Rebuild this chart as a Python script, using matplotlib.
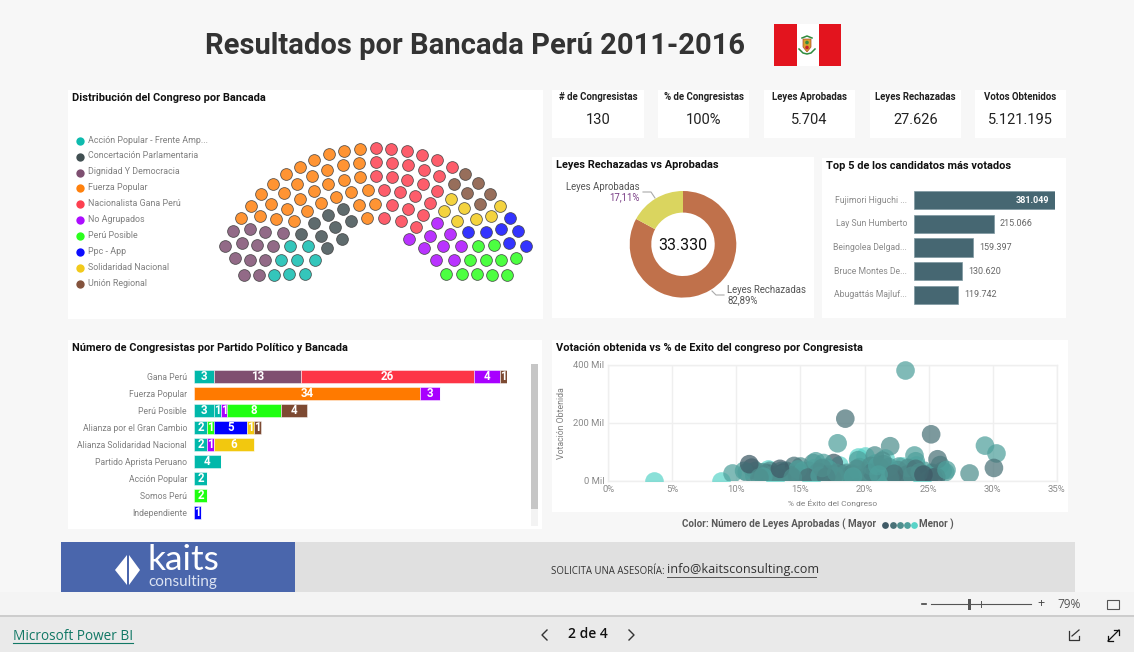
import matplotlib
matplotlib.use("Agg")
import matplotlib.pyplot as plt
from matplotlib.patches import Rectangle, Polygon, Circle
from matplotlib.ticker import FuncFormatter

W, H = 1134, 652
BOLD = "Roboto"
DIN = "Roboto"

# ---------- data ----------
bancadas = ["Acción Popular - Frente Amp...", "Concertación Parlamentaria", "Dignidad Y Democracia",
            "Fuerza Popular", "Nacionalista Gana Perú", "No Agrupados", "Perú Posible",
            "Ppc - App", "Solidaridad Nacional", "Unión Regional"]
bancada_colors = ["#01B8AA", "#374649", "#774569", "#FF7A00", "#FD3546", "#A800FF", "#1FFF11",
                  "#0000FF", "#F2C80F", "#7D4A32"]
# seats in the hemicycle, one (x, y) per congress member
seats_ap = [(222,435),(268,433),(314,432),(243,390),(292,389),(344,389),(270,348),(324,349)]
seats_con = [(303,311),(362,318),(382,353),(426,327),(341,280),(405,291),(453,273),(383,255),(430,236)]
seats_dig = [(133,435),(177,435),(105,385),(149,390),(196,389),(76,347),(126,340),(171,346),(219,347),
             (98,304),(150,297),(196,306),(249,309)]
seats_fp = [(123,264),(181,259),(228,268),(282,272),(320,242),(362,218),(407,200),(454,186),(503,181),
            (152,227),(214,221),(261,237),(300,206),(341,182),(385,163),(431,149),(479,141),
            (184,192),(252,189),(292,161),(336,138),(381,120),(428,106),(478,98),
            (220,161),(258,133),(299,110),(342,89),(386,73),(433,62),(480,56),
            (478,226),(526,221),(502,264)]
seats_nac = [(527,54),(574,56),(620,63),(666,74),(711,90),(755,110),
             (527,96),(576,98),(624,106),(672,119),(717,137),
             (527,139),(575,141),(622,149),(668,162),(712,182),
             (551,180),(600,186),(646,199),(691,218),
             (576,226),(624,236),(669,254),(552,264),(602,272),(648,290)]
seats_noa = [(712,280),(690,317),(750,311),(627,326),(671,353),(730,349),(783,348),(708,389),(761,389)]
seats_pp = [(834,347),(882,346),(810,389),(857,390),(904,390),(947,385),(739,431),(785,433),(831,433),
            (876,434),(920,436)]
seats_ppc = [(930,264),(803,307),(857,306),(903,297),(955,304),(927,340),(977,347)]
seats_sol = [(753,207),(732,243),(791,235),(901,227),(771,272),(827,268),(872,259)]
seats_ur = [(795,132),(761,161),(833,160),(802,188),(869,191),(840,222)]
all_seats = [seats_ap, seats_con, seats_dig, seats_fp, seats_nac, seats_noa, seats_pp, seats_ppc, seats_sol, seats_ur]

kpi_titles = ["# de Congresistas", "% de Congresistas", "Leyes Aprobadas", "Leyes Rechazadas", "Votos Obtenidos"]
kpi_values = ["130", "100%", "5.704", "27.626", "5.121.195"]

leyes_labels = ["Leyes Rechazadas", "Leyes Aprobadas"]
leyes_pct = [82.89, 17.11]
leyes_total = "33.330"

top5_names = ["Fujimori Higuchi ...", "Lay Sun Humberto", "Beingolea Delgad...", "Bruce Montes De...", "Abugattás Majluf..."]
top5_votes = [381049, 215066, 159397, 130620, 119742]

partidos = ["Gana Perú", "Fuerza Popular", "Perú Posible", "Alianza por el Gran Cambio",
            "Alianza Solidaridad Nacional", "Partido Aprista Peruano", "Acción Popular", "Somos Perú", "Independiente"]
part_ap  = [3, 0, 3, 0, 0, 0, 2, 0, 0]
part_con = [0, 0, 1, 2, 2, 4, 0, 0, 0]
part_dig = [13, 0, 0, 0, 0, 0, 0, 0, 0]
part_fp  = [0, 34, 0, 0, 0, 0, 0, 0, 0]
part_nac = [26, 0, 0, 0, 0, 0, 0, 0, 0]
part_noa = [4, 3, 1, 0, 1, 0, 0, 0, 0]
part_pp  = [0, 0, 8, 1, 0, 0, 0, 2, 0]
part_ppc = [0, 0, 0, 5, 0, 0, 0, 0, 1]
part_sol = [0, 0, 0, 1, 6, 0, 0, 0, 0]
part_ur  = [1, 0, 4, 1, 0, 0, 0, 0, 0]
part_stack = [part_ap, part_con, part_dig, part_fp, part_nac, part_noa, part_pp, part_ppc, part_sol, part_ur]
part_colors = ["#01B8AA", "#01B8AA", "#7F4F70", "#FF7A00", "#FD3546", "#A800FF", "#1FFF11", "#0000FF", "#F2C80F", "#7D4A32"]

exito_t0 = [17.6,15.0,11.0,24.6,15.3,14.7,13.4,17.1,20.6,25.4,12.4,24.2]
votos_t0 = [62,28,58,22,20,20,42,22,30,12,28,30]
exito_t1 = [18.5,25.2,30.1,25.7,11.2,12.3,16.4,18.2,21.2,24.0,22.3,19.0,14.5,25.6,13.6,16.0,17.0,20.0,23.3,15.6]
votos_t1 = [215,161,45,75,46,25,32,25,48,42,25,25,52,14,28,22,14,12,22,12]
exito_t2 = [28.2,22.0,20.8,10.8,11.5,12.8,14.0,15.0,16.0,16.7,18.6,19.4,21.4,22.6,23.4,24.3,25.9,26.1,14.2,13.1,17.5,20.3,21.7,12.0,15.5,19.8,23.0,25.0,
            11.8,12.6,13.3,14.4,15.7,16.4,17.8,18.9,19.7,20.5,21.2,22.4,23.7,24.8,25.3,15.0,13.9]
votos_t2 = [26,120,88,30,35,20,32,50,62,45,28,42,70,38,45,30,55,35,20,18,8,14,18,30,8,6,8,5,
            12,35,10,12,35,12,28,8,22,52,30,12,18,15,28,10,35]
exito_t3 = [23.2,17.9,29.4,30.3,9.7,26.4,23.9,19.5,21.0,22.7,24.0,16.2,16.8,13.0,14.8,18.4,20.2,22.0,11.4,13.7,17.2,21.1,23.6,15.2,19.1,25.1,
            10.6,12.1,13.5,14.9,16.5,18.8,20.7,21.9,23.1,24.7,26.3,19.6,17.7,21.5]
votos_t3 = [381,130,122,95,26,38,88,72,52,50,68,68,62,8,40,20,35,10,18,25,40,22,30,35,15,26,
            35,15,35,22,18,22,12,48,12,35,30,48,18,58]
exito_t4 = [3.6,8.8,12.5,19.5,20.0,21.6,22.9,24.0,16.0,18.0,20.8,22.2,13.0,15.8,24.5,17.0]
votos_t4 = [0,0,40,82,85,78,52,55,45,55,62,35,5,5,8,48]
tone_colors = ["#3F5A66", "#4A7278", "#4F8F8E", "#4FA09C", "#58D3C8"]

# ---------- figure ----------
fig = plt.figure(figsize=(W/100, H/100), dpi=100, facecolor="#F7F7F7")

def px_axes(l, t, r, b, z=2):
    a = fig.add_axes([l/W, 1-b/H, (r-l)/W, (b-t)/H], zorder=z)
    return a

bg = px_axes(0, 0, W, H, 0)
bg.set_xlim(0, W); bg.set_ylim(H, 0); bg.axis("off")
fg = px_axes(0, 0, W, H, 5)
fg.set_xlim(0, W); fg.set_ylim(H, 0); fg.axis("off"); fg.patch.set_alpha(0)

def box(l, t, r, b, c="white", a=bg, **k):
    a.add_patch(Rectangle((l, t), r-l, b-t, fc=c, ec="none", **k))

for p in [(68,90,543,319),(68,340,542,529),(552,340,1068,512),(552,157,814,318),(822,158,1066,318)]:
    box(*p)

def panel_title(x, y, s, size=7.9):
    fg.text(x, y+.6, s, family=BOLD, weight="bold", fontsize=size, color="#111111", va="center", ha="left")

# main title
fg.text(205, 46.5, "Resultados por Bancada Perú 2011-2016", family=BOLD, weight="bold", fontsize=21,
        color="#333333", va="center", ha="left")
# flag
box(774, 24, 796.5, 66, "#E3141E"); box(796.5, 24, 818.5, 66, "white"); box(818.5, 24, 841, 66, "#E3141E")
bg.add_patch(Polygon([(803,39),(811,39),(811,47),(807,52),(803,47)], fc="#D6A32A", ec="#B04A2A", lw=.5))
bg.add_patch(Circle((807, 42.5), 1.8, fc="#3C8A3C", ec="none"))
bg.add_patch(Circle((807, 47.5), 1.8, fc="#C8202A", ec="none"))
bg.plot([799,803,807,811,815],[49,53,54,53,49], color="#2E8B3D", lw=1.1)
bg.plot([802,807,812],[38,36,38], color="#2E8B3D", lw=1.1)

# KPI cards
kpi_left = [552, 658, 764, 870, 975]
kpi_right = [644, 749, 855, 961, 1066]
for l, r, t, v in zip(kpi_left, kpi_right, kpi_titles, kpi_values):
    box(l, 90, r, 138)
    fg.text((l+r)/2, 97, t, family=BOLD, weight="bold", fontsize=6.9, color="#222222", ha="center", va="center")
    fg.text((l+r)/2, 120, v, family=DIN, fontsize=10.5, color="#222222", ha="center", va="center")

# hemicycle
panel_title(72, 97, "Distribución del Congreso por Bancada")
leg_y = [140.7, 156.5, 172.5, 188, 204, 220, 236, 252, 268, 284]
for y, name, c in zip(leg_y, bancadas, bancada_colors):
    fg.scatter([80], [y], s=36, color=c, alpha=.95, linewidths=0)
    fg.text(88, y-.5, name, family=DIN, fontsize=6.4, color="#808080", va="center", ha="left")
hemi = px_axes(200, 130, 540, 290)
hemi.set_xlim(0, 1020); hemi.set_ylim(480, 0); hemi.axis("off"); hemi.patch.set_alpha(0)
for pts, c in zip(all_seats, bancada_colors):
    hemi.scatter([p[0] for p in pts], [p[1] for p in pts], s=72, color=c, alpha=.8,
                 edgecolors="#3A3A3A", linewidths=.6)

# donut
panel_title(556, 164, "Leyes Rechazadas vs Aprobadas")
don = px_axes(683-53.3, 244.3-53.3, 683+53.3, 244.3+53.3)
don.pie(leyes_pct, colors=["#C0714B", "#DAD55F"], startangle=90, counterclock=False, radius=1,
        wedgeprops=dict(width=.405, edgecolor="none"))
don.set_xlim(-1, 1); don.set_ylim(-1, 1); don.set_aspect("equal")
don.patch.set_alpha(0)
fg.text(683, 246, leyes_total, family=DIN, fontsize=11.5, color="#111111", ha="center", va="center")
fg.text(640, 187, leyes_labels[1], family=DIN, fontsize=6.9, color="#555555", ha="right", va="center")
fg.text(640, 197, "17,11%", family=DIN, fontsize=6.9, color="#7A3E86", ha="right", va="center")
fg.text(727, 290, leyes_labels[0], family=DIN, fontsize=6.9, color="#555555", ha="left", va="center")
fg.text(727, 300, "82,89%", family=DIN, fontsize=6.9, color="#555555", ha="left", va="center")
fg.plot([643, 651, 655], [192, 192, 198], color="#AAAAAA", lw=.8)
fg.plot([712, 716, 724], [291, 295, 295], color="#AAAAAA", lw=.8)

# top 5
panel_title(826, 165, "Top 5 de los candidatos más votados")
t5 = px_axes(914, 188, 1055, 307)
t5.barh(range(5), top5_votes, height=.78, color="#466772", edgecolor="#7E98A0", linewidth=.5)
t5.set_xlim(0, 381049); t5.set_ylim(4.52, -.52); t5.axis("off"); t5.patch.set_alpha(0)
for i, (n, v) in enumerate(zip(top5_names, top5_votes)):
    t5.annotate(n, (0, i), xytext=(-7, 0), textcoords="offset pixels", ha="right", va="center",
                family=DIN, fontsize=6.2, color="#8A8A8A", annotation_clip=False)
    s = f"{v:,}".replace(",", ".")
    if i == 0:
        t5.annotate(s, (v, i), xytext=(-6, 0), textcoords="offset pixels", ha="right", va="center",
                    family=DIN, weight="bold", fontsize=6.5, color="white")
    else:
        t5.annotate(s, (v, i), xytext=(6, 0), textcoords="offset pixels", ha="left", va="center",
                    family=DIN, fontsize=6.5, color="#666666", annotation_clip=False)

# stacked bars
panel_title(72, 347, "Número de Congresistas por Partido Político y Bancada")
st = px_axes(194, 368.2, 194+47*6.66, 520.5)
left = [0]*len(partidos)
for vals, c in zip(part_stack, part_colors):
    st.barh(range(len(partidos)), vals, left=left, height=.77, color=c, edgecolor=(1,1,1,.45), linewidth=.7)
    for i, v in enumerate(vals):
        if v:
            st.text(left[i]+v/2, i, str(v), family=DIN, weight="bold", fontsize=8.3, color="white", ha="center", va="center")
    left = [a+b for a, b in zip(left, vals)]
st.set_xlim(0, 47); st.set_ylim(8.5, -.5)
st.set_yticks(range(len(partidos))); st.set_yticklabels(partidos, family=DIN, fontsize=6.2, color="#808080")
st.tick_params(axis="y", length=0, pad=5); st.set_xticks([])
for s in st.spines.values(): s.set_visible(False)
st.patch.set_alpha(0)
box(531, 364, 538, 526, "#F3F3F3", a=fg); box(531, 364, 538, 509, "#C6C6C6", a=fg)

# scatter
panel_title(556, 347, "Votación obtenida vs % de Exito del congreso por Congresista")
sc = px_axes(608.3, 365, 1056.7, 481)
sc.set_xlim(0, 35); sc.set_ylim(0, 400)
sc.set_xticks(range(0, 36, 5)); sc.set_yticks([0, 200, 400])
sc.xaxis.set_major_formatter(FuncFormatter(lambda v, p: f"{int(v)}%"))
sc.yaxis.set_major_formatter(FuncFormatter(lambda v, p: f"{int(v)} Mil"))
sc.grid(True, color="#EFEFEF", lw=1); sc.set_axisbelow(True)
sc.tick_params(length=0, labelsize=6.8, labelcolor="#8A8A8A", pad=3)
for l in sc.get_xticklabels()+sc.get_yticklabels(): l.set_family(DIN)
for s in sc.spines.values(): s.set_color("#EFEFEF"); s.set_linewidth(1)
sc.set_xlabel("% de Éxito del Congreso", family=DIN, fontsize=6, color="#808080", labelpad=4)
sc.set_ylabel("Votación Obtenida", family=DIN, fontsize=6.3, color="#808080", labelpad=5)
sc.patch.set_alpha(0)
# lightest tone first, the darker tones interleaved above it
pc4 = sc.scatter(exito_t4, votos_t4, s=180, color=tone_colors[4], alpha=.7, linewidths=0, zorder=3)
all_x = exito_t0 + exito_t1 + exito_t2 + exito_t3
all_y = votos_t0 + votos_t1 + votos_t2 + votos_t3
all_c = ([tone_colors[0]]*len(exito_t0) + [tone_colors[1]]*len(exito_t1) + [tone_colors[2]]*len(exito_t2)
         + [tone_colors[3]]*len(exito_t3))
n = len(all_x)
order = sorted(range(n), key=lambda i: (i*37) % n)
pc = sc.scatter([all_x[i] for i in order], [all_y[i] for i in order], s=180,
                color=[all_c[i] for i in order], alpha=.72, linewidths=0, zorder=4)
for col in (pc4, pc):
    col.set_clip_path(Rectangle((-2, 0), 40, 460, transform=sc.transData))
fg.text(682, 524.5, "Color: Número de Leyes Aprobadas ( Mayor", family=BOLD, weight="bold", fontsize=7.1,
        color="#5A5A5A", ha="left", va="center")
for x, c in zip([885, 893, 900, 907, 914], tone_colors):
    fg.scatter([x], [524.5], s=24, color=c, linewidths=0)
fg.text(919, 524.5, "Menor )", family=BOLD, weight="bold", fontsize=7.1, color="#5A5A5A", ha="left", va="center")

# footer
box(295, 542, 1075, 592, "#E0E0E0")
box(61, 542, 295, 592, "#4A66AC")
bg.add_patch(Polygon([(115,570),(127,555),(127,585)], fc="white", ec="none"))
bg.add_patch(Polygon([(129,555),(140,570),(129,585)], fc="white", ec="none"))
fg.text(147, 560, "kaits", family="Lato", fontsize=25.5, color="white", ha="left", va="center")
fg.text(148, 582, "consulting", family="Lato", fontsize=11, color="#DCE3F2", ha="left", va="center")
fg.text(551, 571.5, "SOLICITA UNA ASESORÍA:", family="Open Sans", fontsize=6.9, color="#333333", ha="left", va="center")
fg.text(667, 570, "info@kaitsconsulting.com", family="Open Sans", fontsize=9.1, color="#333333", ha="left", va="center")
fg.plot([667, 816], [576.5, 576.5], color="#555555", lw=.7)

# report chrome
box(0, 592, W, 615, "#F4F4F4")
box(0, 615, W, 652, "#EAEAEA")
bg.plot([0, W], [615.5, 615.5], color="#C8C8C8", lw=1.2)
fg.plot([922, 926], [604, 604], color="#444444", lw=1.2)
fg.plot([931, 1031], [604, 604], color="#555555", lw=.8)
fg.add_patch(Rectangle((968, 599), 3, 11, fc="#555555", ec="none"))
fg.plot([981, 981], [601, 607], color="#555555", lw=.7)
fg.text(1041, 604, "+", family="Open Sans", fontsize=9, color="#444444", ha="center", va="center")
fg.text(1069, 604, "79%", family="Open Sans", fontsize=8.6, color="#555555", ha="center", va="center")
fg.add_patch(Rectangle((1107, 600), 12, 9, fc="none", ec="#555555", lw=.8))
fg.text(13, 636, "Microsoft Power BI", family="Open Sans", fontsize=9.8, color="#117865", ha="left", va="center")
fg.plot([13, 133], [643, 643], color="#117865", lw=.8)
fg.text(588, 634.5, "2 de 4", family="Open Sans", weight="semibold", fontsize=10, color="#111111", ha="center", va="center")
fg.plot([547, 542, 547], [630, 635, 640], color="#333333", lw=1)
fg.plot([629, 634, 629], [630, 635, 640], color="#333333", lw=1)
fg.plot([1069, 1069, 1079, 1079], [631, 640, 640, 636], color="#333333", lw=.9)
fg.plot([1072, 1079], [636, 630], color="#333333", lw=.9)
fg.plot([1108, 1119], [641, 630], color="#111111", lw=.9)
fg.plot([1114, 1119, 1119], [630, 630, 635], color="#111111", lw=.9)
fg.plot([1108, 1108, 1113], [636, 641, 641], color="#111111", lw=.9)

fig.savefig("out.png", dpi=100, facecolor=fig.get_facecolor())
